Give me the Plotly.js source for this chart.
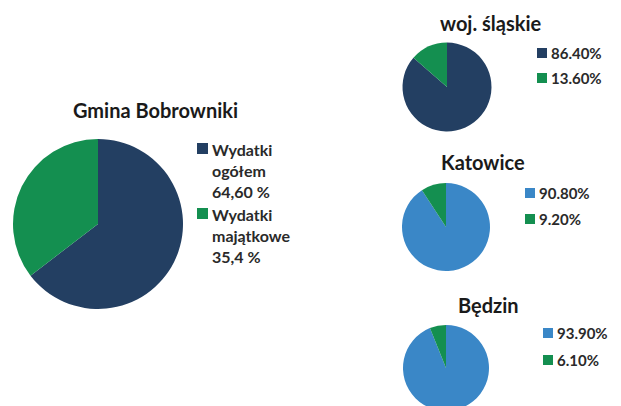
<!DOCTYPE html>
<html>
<head>
<meta charset="utf-8">
<script src="https://cdn.plot.ly/plotly-3.0.1.min.js"></script>
<style>
html,body{margin:0;padding:0;overflow:hidden;background:#fff;}
#chart{width:621px;height:420px;}
</style>
</head>
<body>
<div id="chart"></div>
<script>
// ---- data ----
var pieTitles = ["Gmina Bobrowniki", "woj. śląskie", "Katowice", "Będzin"];
var bobrowLabels = ["Wydatki<br>ogółem<br>64,60 %", "Wydatki<br>majątkowe<br>35,4 %"];
var bobrowValues = [64.6, 35.4];
var slaskieLabels = ["86.40%", "13.60%"];
var slaskieValues = [86.4, 13.6];
var katowiceLabels = ["90.80%", "9.20%"];
var katowiceValues = [90.8, 9.2];
var bedzinLabels = ["93.90%", "6.10%"];
var bedzinValues = [93.9, 6.1];

var NAVY = "#233f62", GREEN = "#148f50", BLUE = "#3a87c7";
var W = 621, H = 420;
var FONT = 'Lato, "Open Sans", sans-serif';
function px(x){return x/W;}
function py(y){return 1 - y/H;}
function dom(cx, cy, r){return {x:[px(cx-r), px(cx+r)], y:[py(cy+r), py(cy-r)]};}

var pies = [
  {labels:bobrowLabels, values:bobrowValues, colors:[NAVY, GREEN], c:[98,224,85],
   title:[155,110,20], leg:{sq:[197,[143,208],11], tx:210, rows:[170,235], fs:16}},
  {labels:slaskieLabels, values:slaskieValues, colors:[NAVY, GREEN], c:[447,87,44.5],
   title:[491,23,20], leg:{sq:[537,[48,73],10], tx:549, rows:[53,78], fs:15}},
  {labels:katowiceLabels, values:katowiceValues, colors:[BLUE, GREEN], c:[446,227,44],
   title:[483,162,20], leg:{sq:[525,[188,214],10], tx:537, rows:[193,219], fs:15}},
  {labels:bedzinLabels, values:bedzinValues, colors:[BLUE, GREEN], c:[446,368,43],
   title:[488,305,20], leg:{sq:[543,[328,355],10], tx:555, rows:[333,360], fs:15}}
];

var traces = [], annotations = [], shapes = [];
pies.forEach(function(p, i){
  traces.push({
    type:'pie', labels:p.labels, values:p.values, sort:false, direction:'clockwise',
    rotation:0, textinfo:'none', hoverinfo:'label+value', showlegend:false,
    marker:{colors:p.colors, line:{width:0}},
    domain:dom(p.c[0], p.c[1], p.c[2])
  });
  annotations.push({
    text:'<b>'+pieTitles[i]+'</b>', x:px(p.title[0]), y:py(p.title[1]),
    xref:'paper', yref:'paper', xanchor:'center', yanchor:'middle', showarrow:false,
    font:{family:FONT, size:p.title[2], color:'#1a1a1a'}
  });
  p.labels.forEach(function(lab, k){
    var s = p.leg.sq[2];
    var sy = p.leg.sq[1][k];
    shapes.push({type:'rect', xref:'paper', yref:'paper',
      x0:px(p.leg.sq[0]), x1:px(p.leg.sq[0]+s), y0:py(sy+s), y1:py(sy),
      fillcolor:p.colors[k], line:{width:0}});
    annotations.push({
      text:'<b>'+lab+'</b>', x:px(p.leg.tx), y:py(p.leg.rows[k]), xref:'paper', yref:'paper',
      xanchor:'left', yanchor:'middle', align:'left', showarrow:false,
      font:{family:FONT, size:p.leg.fs, color:'#2a2a2a'}
    });
  });
});

Plotly.newPlot('chart', traces, {
  width:W, height:H, margin:{l:0,r:0,t:0,b:0},
  paper_bgcolor:'#fff', plot_bgcolor:'#fff',
  showlegend:false, annotations:annotations, shapes:shapes
}, {staticPlot:true, displayModeBar:false});
</script>
</body>
</html>
